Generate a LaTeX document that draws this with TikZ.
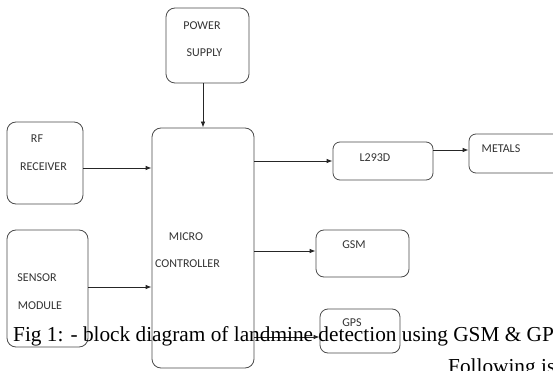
\documentclass[tikz,border=0pt]{standalone}
\usepackage{fontspec}
\setmainfont{Liberation Serif}
\newfontfamily\boxfont{Carlito}
\usepackage{tikz}
\usetikzlibrary{arrows.meta,positioning}

\begin{document}
\begin{tikzpicture}[
    x=1pt, y=-1pt,
    block/.style={draw=black!70, line width=0.8pt, rounded corners=9pt, inner sep=0pt},
    lbl/.style={font=\boxfont\fontsize{12}{14}\selectfont, text=black!80, inner sep=0pt},
    sig/.style={-{Latex[length=6pt,width=4.5pt]}, line width=0.8pt, draw=black!85}
]
    \clip (0,0) rectangle (553,371);
    \fill[white] (0,0) rectangle (553,371);

    % blocks
    \node[block, minimum width=83, minimum height=75] (pwr) at (207.5,45.5) {};
    \node[block, minimum width=76, minimum height=82] (rf) at (45,163) {};
    \node[block, minimum width=102, minimum height=240] (mc) at (203,248) {};
    \node[block, minimum width=81, minimum height=117] (sens) at (47.5,288.5) {};
    \node[block, minimum width=100, minimum height=38, rounded corners=7pt] (l293) at (383,161) {};
    \node[block, minimum width=101, minimum height=39, rounded corners=7pt] (met) at (519.5,153.5) {};
    \node[block, minimum width=93, minimum height=47, rounded corners=8pt] (gsm) at (362.5,253.5) {};
    \node[block, minimum width=80, minimum height=44, rounded corners=8pt] (gps) at (360,331) {};

    % block texts
    \node[lbl] (pwr1) at (202,26) {POWER};
    \node[lbl] (pwr2) at (204.5,53) {SUPPLY};
    \node[lbl] (rf1) at (37,139) {RF};
    \node[lbl] (rf2) at (43.5,167) {RECEIVER};
    \node[lbl] (mc1) at (186,237) {MICRO};
    \node[lbl] (mc2) at (187.5,264) {CONTROLLER};
    \node[lbl] (sens1) at (37,278) {SENSOR};
    \node[lbl] (sens2) at (40,306) {MODULE};
    \node[lbl] (l2931) at (375,158) {L293D};
    \node[lbl] (met1) at (501,149) {METALS};
    \node[lbl] (gsm1) at (354,245) {GSM};
    \node[lbl] (gps1) at (352,323) {GPS};

    % connections
    \draw[sig] (pwr.south -| mc.north) -- (mc.north);
    \draw[sig] ([yshift=-5pt]rf.east) -- ([yshift=-5pt]rf.east -| mc.west);
    \draw[sig] ([yshift=1.5pt]sens.east) -- ([yshift=1.5pt]sens.east -| mc.west);
    \draw[sig] (mc.east |- l293.west) -- (l293.west);
    \draw[sig] ([yshift=11pt]l293.east) -- ([yshift=11pt]l293.east -| met.west);
    \draw[sig] ([yshift=2.5pt]mc.east |- gsm.west) -- ([yshift=2.5pt]gsm.west);
    \draw[sig] ([yshift=-6pt]mc.east |- gps.west) -- ([yshift=-6pt]gps.west);

    % caption
    \node[anchor=base west, inner sep=0pt, font=\fontsize{21.3}{24}\selectfont] (cap) at (13,341)
        {Fig 1: - block diagram of landmine detection using GSM \& GP};
    \node[anchor=base west, inner sep=0pt, font=\fontsize{21.3}{24}\selectfont] (next) at (448,373)
        {Following is};
\end{tikzpicture}
\end{document}
